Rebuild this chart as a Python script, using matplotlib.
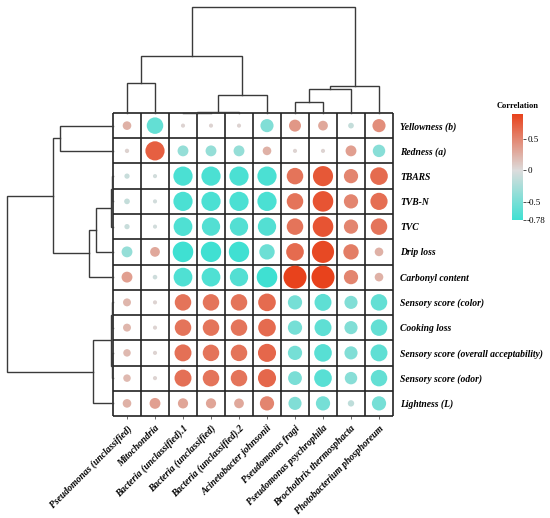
import numpy as np
import matplotlib
matplotlib.use("Agg")
import matplotlib.pyplot as plt
from matplotlib.colors import LinearSegmentedColormap, Normalize
from matplotlib.cm import ScalarMappable

# data
rows = ["Yellowness (b)", "Redness (a)", "TBARS", "TVB-N", "TVC", "Drip loss",
        "Carbonyl content", "Sensory score (color)", "Cooking loss",
        "Sensory score (overall acceptability)", "Sensory score (odor)", "Lightness (L)"]
cols = ["Pseudomonas (unclassified)", "Mitochondria", "Bacteria (unclassified).1",
        "Bacteria (unclassified)", "Bacteria (unclassified).2", "Acinetobacter johnsonii",
        "Pseudomonas fragi", "Pseudomonas psychrophila", "Brochothrix thermosphacta",
        "Photobacterium phosphoreum"]

corr = np.array([
    [0.25, -0.60, 0.05, 0.05, 0.05, -0.45, 0.40, 0.30, -0.12, 0.45],
    [0.06, 0.72, -0.35, -0.35, -0.35, 0.25, 0.05, 0.05, 0.35, -0.42],
    [-0.10, -0.05, -0.72, -0.72, -0.72, -0.72, 0.60, 0.76, 0.50, 0.65],
    [-0.12, -0.05, -0.72, -0.72, -0.72, -0.72, 0.60, 0.78, 0.50, 0.63],
    [-0.10, -0.05, -0.70, -0.68, -0.68, -0.68, 0.60, 0.78, 0.50, 0.60],
    [-0.35, 0.30, -0.78, -0.77, -0.77, -0.55, 0.65, 0.85, 0.55, 0.25],
    [0.35, -0.07, -0.70, -0.70, -0.68, -0.78, 0.89, 0.89, 0.50, 0.25],
    [0.22, 0.05, 0.60, 0.60, 0.60, 0.65, -0.50, -0.62, -0.45, -0.60],
    [0.22, 0.05, 0.60, 0.60, 0.60, 0.65, -0.50, -0.62, -0.45, -0.60],
    [0.20, 0.05, 0.62, 0.60, 0.60, 0.67, -0.50, -0.65, -0.45, -0.62],
    [0.20, 0.05, 0.62, 0.60, 0.60, 0.67, -0.48, -0.65, -0.42, -0.60],
    [0.25, 0.35, 0.32, 0.32, 0.30, 0.50, -0.45, -0.50, -0.15, -0.50],
])

# linkage: (left node, right node, height); new nodes numbered after leaves
col_links = [(2, 3, 0.4), (10, 4, 0.8), (0, 1, 30), (11, 5, 18), (12, 13, 57),
             (6, 7, 11), (15, 8, 24), (16, 9, 27), (14, 17, 106)]
row_links = [(2, 3, 0.8), (12, 4, 1.6), (13, 5, 17), (14, 6, 24), (0, 1, 53),
             (16, 15, 60), (7, 8, 0.8), (9, 10, 0.8), (18, 19, 1.6), (20, 11, 20),
             (17, 21, 106)]

vmin, vmax = -0.78, 0.89
cbar_ticks = [0.5, 0, -0.5, -0.78]
cbar_labels = ["0.5", "0", "-0.5", "-0.78"]

W, H = 550, 518
fig = plt.figure(figsize=(W / 100, H / 100), dpi=100)

def px_axes(x0, y0, x1, y1):
    return fig.add_axes([x0 / W, (H - y1) / H, (x1 - x0) / W, (y1 - y0) / H])

cmap = LinearSegmentedColormap.from_list(
    "corr", [(0, "#3fe0d2"), (-vmin / (vmax - vmin), "#dcdcdc"), (1, "#e8421c")])
norm = Normalize(vmin, vmax)

label_font = dict(family="Liberation Serif", weight="bold", style="italic", size=6.9)

# main grid
ax = px_axes(113, 113, 393, 416)
nr, nc = corr.shape
ax.set_xlim(0, nc)
ax.set_ylim(nr, 0)
ax.hlines(np.arange(nr + 1), 0, nc, color="#222222", lw=1.2, clip_on=False)
ax.vlines(np.arange(nc + 1), 0, nr, color="#222222", lw=1.2, clip_on=False)
xx, yy = np.meshgrid(np.arange(nc) + 0.5, np.arange(nr) + 0.5)
diam = 3 + 22.5 * np.abs(corr)
ax.scatter(xx.ravel(), yy.ravel(), s=(diam.ravel() * 0.72) ** 2,
           c=corr.ravel(), cmap=cmap, norm=norm, linewidths=0, zorder=3)
for s in ax.spines.values():
    s.set_visible(False)
ax.set_xticks(np.arange(nc) + 0.5)
ax.set_xticklabels(cols, rotation=45, ha="right", va="top", rotation_mode="anchor",
                   **label_font)
ax.yaxis.tick_right()
ax.set_yticks(np.arange(nr) + 0.5)
ax.set_yticklabels(rows, **label_font)
ax.tick_params(axis="x", length=2.5, width=0.6, pad=3, color="#555555")
ax.tick_params(axis="y", length=0, pad=5)

def draw_dendro(axd, links, nleaf, horizontal):
    pos = {i: i + 0.5 for i in range(nleaf)}
    hgt = {i: 0.0 for i in range(nleaf)}
    node = nleaf
    for a, b, h in links:
        xs = [pos[a], pos[a], pos[b], pos[b]]
        ys = [hgt[a], h, h, hgt[b]]
        if horizontal:
            axd.plot(xs, ys, color="#3a3a3a", lw=1.0, clip_on=False,
                     solid_joinstyle="miter")
        else:
            axd.plot(ys, xs, color="#3a3a3a", lw=1.0, clip_on=False,
                     solid_joinstyle="miter")
        pos[node] = (pos[a] + pos[b]) / 2
        hgt[node] = h
        node += 1

# top dendrogram
axt = px_axes(113, 7, 393, 113)
axt.set_xlim(0, nc)
axt.set_ylim(0, 106)
draw_dendro(axt, col_links, nc, True)
axt.axis("off")

# left dendrogram
axl = px_axes(7, 113, 113, 416)
axl.set_ylim(nr, 0)
axl.set_xlim(106, 0)
draw_dendro(axl, row_links, nr, False)
axl.axis("off")

# colorbar
cax = px_axes(512, 114, 523, 220)
cb = fig.colorbar(ScalarMappable(norm=norm, cmap=cmap), cax=cax)
cb.outline.set_visible(False)
cb.set_ticks(cbar_ticks)
cb.set_ticklabels(cbar_labels)
cax.tick_params(length=2, width=0.6, pad=1, labelsize=6.5, color="#333333")
for t in cax.get_yticklabels():
    t.set_family("Liberation Serif")
cax.set_title("Correlation", family="Liberation Serif", weight="bold", size=6, pad=4)

fig.savefig("out.png", dpi=100)
